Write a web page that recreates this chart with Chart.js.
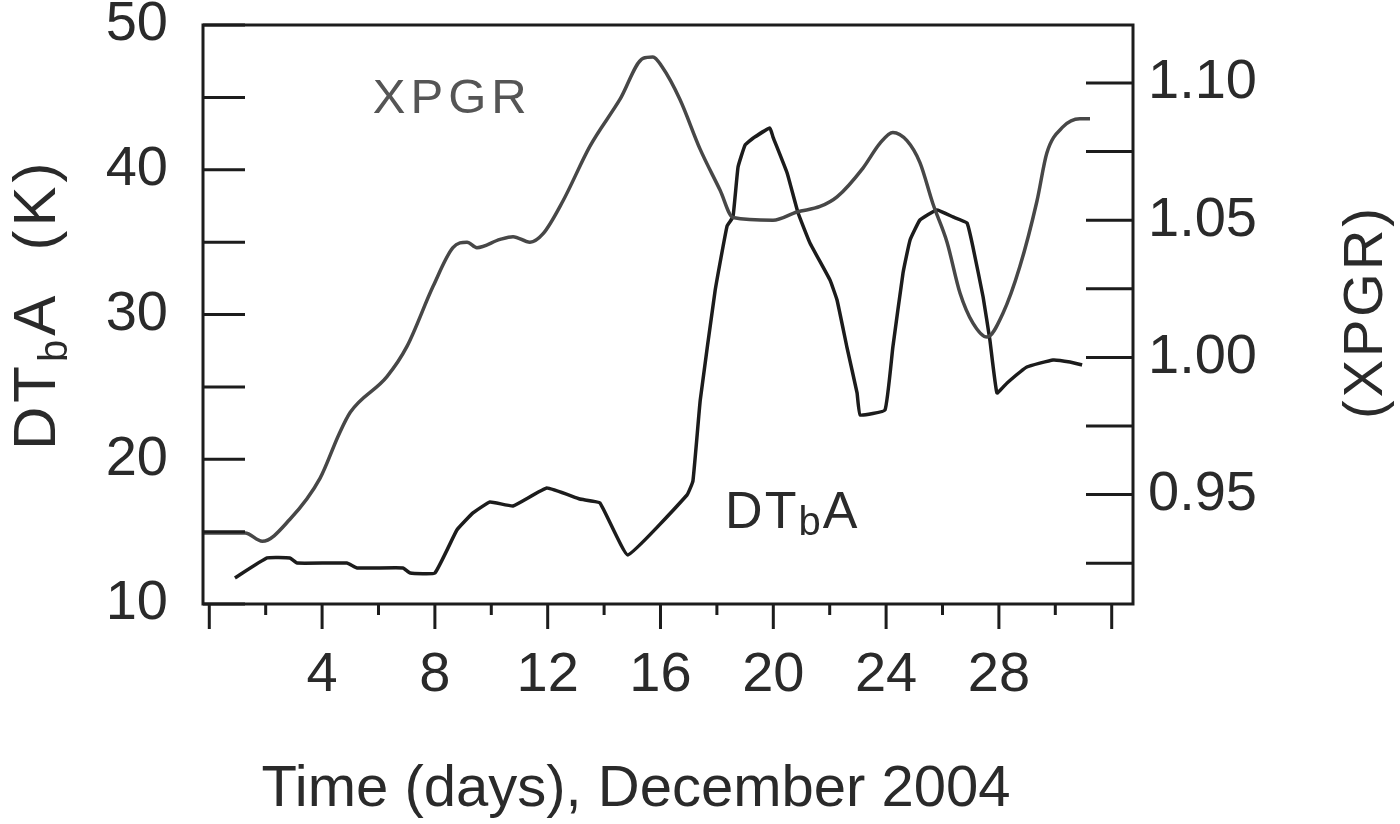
<!DOCTYPE html>
<html>
<head>
<meta charset="utf-8">
<script src="https://cdn.jsdelivr.net/npm/chart.js@4.4.1/dist/chart.umd.min.js"></script>
<style>
  html, body { margin: 0; padding: 0; background: #fff; }
  #wrap { width: 1400px; height: 824px; }
</style>
</head>
<body>
<div id="wrap"><canvas id="c" width="1400" height="824"></canvas></div>
<script>
// XPGR (right axis)
const xpgrDays = [-0.22, 1.27, 1.88, 2.86, 3.93, 4.6, 5.0, 6.3, 7.01, 7.94, 8.64, 9.14, 9.49, 10.31, 10.77,
  11.37, 11.83, 12.54, 13.5, 14.56, 15.38, 15.73, 16.05, 16.69, 17.4, 18.11, 18.57, 19.99, 20.84, 21.66,
  22.26, 23.18, 23.78, 24.24, 24.74, 25.2, 25.66, 26.16, 26.62, 27.08, 27.58, 28.14, 28.74, 29.35, 29.7,
  30.27, 30.87, 31.23];
const xpgrVals = [0.936, 0.936, 0.933, 0.941, 0.956, 0.972, 0.980, 0.993, 1.004, 1.026, 1.040, 1.042, 1.040,
  1.043, 1.044, 1.042, 1.045, 1.057, 1.077, 1.094, 1.109, 1.1095, 1.106, 1.094, 1.076, 1.061, 1.051, 1.050,
  1.053, 1.055, 1.0585, 1.069, 1.078, 1.082, 1.079, 1.071, 1.056, 1.042, 1.0235, 1.0125, 1.0074, 1.016,
  1.033, 1.057, 1.0745, 1.084, 1.087, 1.087];

// DTbA (left axis, K)
const dtbaDays = [0.91, 2.05, 2.86, 3.11, 4.88, 5.24, 6.87, 7.12, 8.0, 8.78, 9.35, 9.95, 10.77, 11.97, 13.14,
  13.85, 14.84, 16.94, 17.15, 17.41, 17.94, 18.36, 18.57, 18.75, 19.0, 19.29, 19.88, 19.99, 20.49, 20.88,
  21.3, 22.01, 22.26, 22.61, 22.97, 23.08, 23.96, 24.24, 24.6, 24.85, 25.2, 25.8, 26.37, 26.87, 27.08,
  27.44, 27.68, 27.93, 28.29, 28.99, 29.92, 30.52, 30.95];
const dtbaVals = [11.8, 13.18, 13.18, 12.83, 12.83, 12.49, 12.49, 12.14, 12.14, 15.11, 16.29, 17.05, 16.77,
  18.01, 17.25, 16.98, 13.39, 17.53, 18.5, 24.09, 31.69, 36.11, 36.74, 40.19, 41.71, 42.19, 42.88, 42.26,
  39.78, 37.01, 34.94, 32.38, 31.0, 27.75, 24.58, 23.06, 23.4, 27.75, 32.87, 35.15, 36.53, 37.22, 36.74,
  36.32, 34.66, 31.21, 28.24, 24.58, 25.27, 26.37, 26.86, 26.72, 26.51];

// ticks
const xTicks = [0, 2, 4, 6, 8, 10, 12, 14, 16, 18, 20, 22, 24, 26, 28, 30, 32];
const xTickLabels = ["", "", "4", "", "8", "", "12", "", "16", "", "20", "", "24", "", "28", "", ""];
const leftTicks = [10, 15, 20, 25, 30, 35, 40, 45, 50];
const leftTickLabels = ["10", "", "20", "", "30", "", "40", "", "50"];
const rightTicks = [0.925, 0.95, 0.975, 1.0, 1.025, 1.05, 1.075, 1.1];
const rightTickLabels = ["", "0.95", "", "1.00", "", "1.05", "", "1.10"];

const INK = "#1c1c1c";
const FONT = '"Liberation Sans", Arial, sans-serif';

function setTicks(values) {
  return (scale) => { scale.ticks = values.map((v) => ({ value: v })); };
}

// fixed box size, no extra padding from the labels
function fixSize(w, h) {
  return (s) => {
    if (w) s.width = w;
    if (h) s.height = h;
    s.paddingTop = 0; s.paddingBottom = 0; s.paddingLeft = 0; s.paddingRight = 0;
  };
}

// text run with subscripts: parts = [[text, size, dy]]
function drawRun(ctx, parts, x, y, spacing) {
  ctx.letterSpacing = spacing + "px";
  let cx = x;
  for (const [t, size, dy] of parts) {
    ctx.font = `${size}px ${FONT}`;
    ctx.fillText(t, cx, y + dy);
    cx += ctx.measureText(t).width;
  }
}

function runWidth(ctx, parts, spacing) {
  ctx.letterSpacing = spacing + "px";
  let w = 0;
  for (const [t, size] of parts) {
    ctx.font = `${size}px ${FONT}`;
    w += ctx.measureText(t).width;
  }
  return w;
}

const frameTicks = {
  id: "frameTicks",
  afterDatasetsDraw(chart) {
    const { ctx, chartArea: a, scales } = chart;
    ctx.save();
    ctx.strokeStyle = INK;
    ctx.lineWidth = 3;
    ctx.strokeRect(a.left, a.top, a.right - a.left, a.bottom - a.top);
    ctx.beginPath();
    scales.yL.ticks.forEach((t) => {
      const y = scales.yL.getPixelForValue(t.value);
      ctx.moveTo(a.left, y); ctx.lineTo(a.left + 42, y);
    });
    scales.yR.ticks.forEach((t) => {
      const y = scales.yR.getPixelForValue(t.value);
      ctx.moveTo(a.right, y); ctx.lineTo(a.right - 47, y);
    });
    scales.x.ticks.forEach((t) => {
      const x = scales.x.getPixelForValue(t.value);
      const len = t.value % 4 === 0 ? 25 : 11;
      ctx.moveTo(x, a.bottom); ctx.lineTo(x, a.bottom + len);
    });
    ctx.stroke();
    ctx.restore();
  },
};

const titles = {
  id: "titles",
  afterDraw(chart) {
    const { ctx, scales } = chart;
    ctx.save();
    ctx.fillStyle = "#2a2a2a";
    ctx.textBaseline = "alphabetic";
    ctx.textAlign = "left";

    // bottom title
    ctx.font = `58px ${FONT}`;
    ctx.textAlign = "center";
    ctx.fillText("Time (days), December 2004", 636, 806);
    ctx.textAlign = "left";

    // left title, rotated
    const leftParts = [["DT", 60, 0], ["b", 40, 12], ["A  (K)", 60, 0]];
    ctx.save();
    ctx.translate(55, 450);
    ctx.rotate(-Math.PI / 2);
    drawRun(ctx, leftParts, 0, 0, 4);
    ctx.restore();

    // right title, rotated
    const rParts = [["(XPGR)", 56, 0]];
    const rw = runWidth(ctx, rParts, 3);
    ctx.save();
    ctx.translate(1382, 312 + rw / 2);
    ctx.rotate(-Math.PI / 2);
    drawRun(ctx, rParts, 0, 0, 3);
    ctx.restore();

    // in-plot labels
    ctx.fillStyle = "#555";
    drawRun(ctx, [["XPGR", 49, 0]], scales.x.getPixelForValue(5.8), scales.yL.getPixelForValue(43.9), 5);
    ctx.fillStyle = "#2a2a2a";
    drawRun(ctx, [["DT", 52, 0], ["b", 40, 7], ["A", 52, 0]],
      scales.x.getPixelForValue(18.29), scales.yL.getPixelForValue(15.25), 2);
    ctx.restore();
  },
};

const tickFont = { family: FONT, size: 56 };

new Chart(document.getElementById("c"), {
  type: "scatter",
  data: {
    datasets: [
      {
        label: "XPGR",
        data: xpgrDays.map((d, i) => ({ x: d, y: xpgrVals[i] })),
        yAxisID: "yR",
        showLine: true,
        borderColor: "#474747",
        borderWidth: 3.5,
        pointRadius: 0,
        cubicInterpolationMode: "monotone",
      },
      {
        label: "DTbA",
        data: dtbaDays.map((d, i) => ({ x: d, y: dtbaVals[i] })),
        yAxisID: "yL",
        showLine: true,
        borderColor: INK,
        borderWidth: 3.5,
        pointRadius: 0,
        tension: 0.1,
      },
    ],
  },
  options: {
    responsive: false,
    animation: false,
    devicePixelRatio: 1,
    layout: { padding: { top: 25, left: 0, right: 0, bottom: 0 }, autoPadding: false },
    plugins: { legend: { display: false }, tooltip: { enabled: false } },
    scales: {
      x: {
        type: "linear",
        min: -0.223,
        max: 32.755,
        afterBuildTicks: setTicks(xTicks),
        afterFit: fixSize(0, 220),
        grid: { display: false, drawTicks: false },
        border: { display: false },
        ticks: {
          autoSkip: false, maxRotation: 0, padding: 38, color: "#2a2a2a", font: tickFont,
          callback: (v, i) => xTickLabels[i],
        },
      },
      yL: {
        type: "linear",
        position: "left",
        min: 10,
        max: 50,
        afterBuildTicks: setTicks(leftTicks),
        afterFit: fixSize(203, 0),
        grid: { display: false, drawTicks: false },
        border: { display: false },
        ticks: {
          autoSkip: false, padding: 35, color: "#2a2a2a", font: tickFont,
          callback: (v, i) => leftTickLabels[i],
        },
      },
      yR: {
        type: "linear",
        position: "right",
        min: 0.91013,
        max: 1.12114,
        afterBuildTicks: setTicks(rightTicks),
        afterFit: fixSize(267, 0),
        grid: { display: false, drawTicks: false },
        border: { display: false },
        ticks: {
          autoSkip: false, padding: 15, color: "#2a2a2a", font: tickFont,
          callback: (v, i) => rightTickLabels[i],
        },
      },
    },
  },
  plugins: [frameTicks, titles],
});
</script>
</body>
</html>
